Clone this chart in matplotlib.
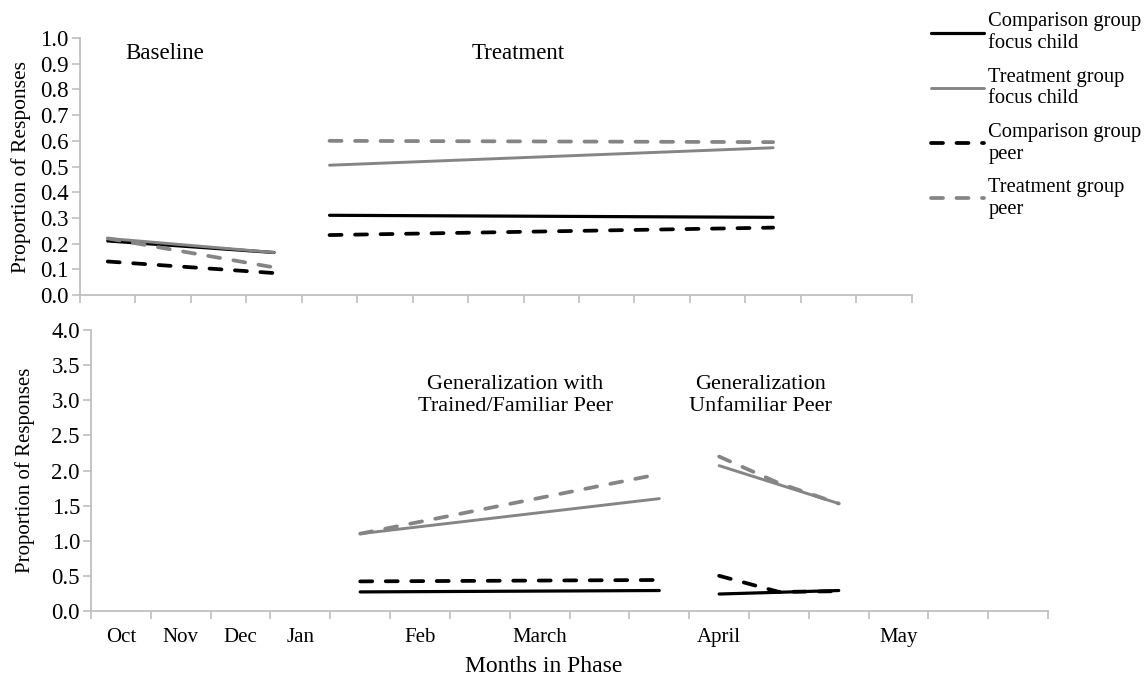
import numpy as np
import matplotlib
matplotlib.use('Agg')
import matplotlib.pyplot as plt

plt.rcParams['font.family'] = ['Liberation Serif', 'DejaVu Serif']

# top panel: 15 category slots, baseline in slots 0-3, treatment in slots 4-12
base_x = [0, 3]
base_comp_focus = [0.21, 0.165]
base_treat_focus = [0.22, 0.165]
base_comp_peer = [0.13, 0.085]
base_treat_peer = [0.22, 0.107]

treat_x = [4, 12]
treat_comp_focus = [0.31, 0.302]
treat_treat_focus = [0.505, 0.573]
treat_comp_peer = [0.233, 0.262]
treat_treat_peer = [0.600, 0.595]

# bottom panel: 16 category slots
month_labels = ['Oct', 'Nov', 'Dec', 'Jan', '', 'Feb', '', 'March', '', '',
                'April', '', '', 'May', '', '']

fam_x = [4, 9]
fam_comp_focus = [0.27, 0.29]
fam_treat_focus = [1.10, 1.60]
fam_comp_peer = [0.42, 0.44]
fam_treat_peer = [1.10, 1.95]

unfam_x = [10, 11, 12]
unfam_comp_focus = [0.24, 0.265, 0.29]
unfam_treat_focus = [2.07, 1.80, 1.53]
unfam_comp_peer = [0.50, 0.27, 0.28]
unfam_treat_peer = [2.20, 1.82, 1.53]

labels = ['Comparison group\nfocus child', 'Treatment group\nfocus child',
          'Comparison group\npeer', 'Treatment group\npeer']

BLACK = '#000000'
GREY = '#858585'
AXC = '#bfbfbf'
styles = [
    dict(color=BLACK, lw=2.3, ls='-', solid_capstyle='round'),
    dict(color=GREY, lw=2.1, ls='-', solid_capstyle='round'),
    dict(color=BLACK, lw=2.7, ls=(0, (3.2, 3.6)), dash_capstyle='round'),
    dict(color=GREY, lw=2.7, ls=(0, (3.2, 3.6)), dash_capstyle='round'),
]

fig = plt.figure(figsize=(11.48, 6.81), dpi=100)
ax1 = fig.add_axes([0.0697, 0.567, 0.7245, 0.377])
ax2 = fig.add_axes([0.0793, 0.103, 0.8337, 0.412])


def style_axis(ax, n, ymax, ystep):
    for s in ['top', 'right']:
        ax.spines[s].set_visible(False)
    for s in ['left', 'bottom']:
        ax.spines[s].set_color(AXC)
        ax.spines[s].set_linewidth(1.3)
    ax.set_xlim(-0.5, n - 0.5)
    ax.set_ylim(0, ymax)
    ax.set_xticks(np.arange(n + 1) - 0.5)
    ax.set_xticklabels([])
    ax.set_yticks(np.arange(0, ymax + ystep / 2, ystep))
    ax.yaxis.set_major_formatter(plt.FormatStrFormatter('%.1f'))
    ax.tick_params(axis='both', which='major', direction='out', color=AXC,
                   length=6, width=1.2)
    ax.tick_params(axis='y', labelsize=16.5, pad=2)


style_axis(ax1, 15, 1.0, 0.1)

handles = []
for xs, vals in [(base_x, [base_comp_focus, base_treat_focus, base_comp_peer, base_treat_peer]),
                 (treat_x, [treat_comp_focus, treat_treat_focus, treat_comp_peer, treat_treat_peer])]:
    for i in [0, 2, 3, 1]:
        ln, = ax1.plot(xs, vals[i], **styles[i])
        if xs is base_x:
            handles.append((i, ln))

ax1.set_ylabel('Proportion of Responses', fontsize=15.5)
ax1.yaxis.set_label_coords(-(80 - 31) / 832, 0.5)
ax1.text(1.03, 0.94, 'Baseline', ha='center', va='center', fontsize=16.5)
ax1.text(7.41, 0.94, 'Treatment', ha='center', va='center', fontsize=16.5)

style_axis(ax2, 16, 4.0, 0.5)
ax2.set_xticks(np.arange(16), minor=True)
ax2.set_xticklabels(month_labels, minor=True, fontsize=15)
ax2.tick_params(axis='x', which='minor', length=0, pad=12)

for xs, vals in [(fam_x, [fam_comp_focus, fam_treat_focus, fam_comp_peer, fam_treat_peer]),
                 (unfam_x, [unfam_comp_focus, unfam_treat_focus, unfam_comp_peer, unfam_treat_peer])]:
    for i in [0, 2, 3, 1]:
        ax2.plot(xs, vals[i], **styles[i])

ax2.set_ylabel('Proportion of Responses', fontsize=15)
ax2.yaxis.set_label_coords(-(91 - 35) / 957, 0.5)
ax2.set_xlabel('Months in Phase', fontsize=17)
ax2.xaxis.set_label_coords((544 - 91) / 957, -(656 - 611) / 281)
ax2.text(6.59, 3.07, 'Generalization with\nTrained/Familiar Peer', ha='center',
         va='center', fontsize=16, linespacing=1.15)
ax2.text(10.69, 3.07, 'Generalization\nUnfamiliar Peer', ha='center',
         va='center', fontsize=16, linespacing=1.15)

handles = [ln for _, ln in sorted(handles, key=lambda t: t[0])]
fig.legend(handles, labels, loc='upper left', bbox_to_anchor=(0.800, 1.0),
           frameon=False, fontsize=14.8, handlelength=2.6, handletextpad=0.2,
           labelspacing=0.7, borderaxespad=0.2)

fig.savefig('out.png', dpi=100)
